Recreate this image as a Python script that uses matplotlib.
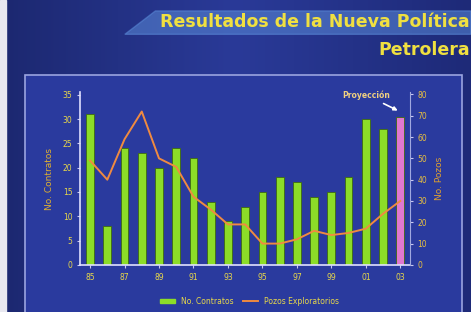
import numpy as np
import matplotlib.pyplot as plt
from matplotlib.patches import Polygon, Rectangle

# datos
anios = np.arange(1985, 2004)
contratos = [31, 8, 24, 23, 20, 24, 22, 13, 9, 12, 15, 18, 17, 14, 15, 18, 30, 28, 30.5]
pozos = [49, 40, 59, 72, 50, 46, 32, 26, 19, 19, 10, 10, 12, 16, 14, 15, 17, 24, 30]
etiquetas = ['85', '87', '89', '91', '93', '95', '97', '99', '01', '03']
anios_etiq = [1985, 1987, 1989, 1991, 1993, 1995, 1997, 1999, 2001, 2003]

amarillo = '#e8d84a'
fig = plt.figure(figsize=(4.71, 3.12), dpi=100)
fig.patch.set_facecolor('#1f2b7c')

# fondo con degradado
grad = np.linspace(0, 1, 256).reshape(1, -1)
bg = fig.add_axes([0, 0, 1, 1], zorder=-10)
bg.imshow(np.vstack([grad] * 2), aspect='auto', cmap=plt.matplotlib.colors.LinearSegmentedColormap.from_list(
    'b', ['#1c2870', '#2a3a98', '#1e2a78']), extent=[0, 1, 0, 1])
bg.set_xlim(0, 1)
bg.set_ylim(0, 1)
bg.axis('off')
bg.add_patch(Rectangle((0, 0), 0.012, 1, color='#e8e8f0'))
# banda del titulo
bg.add_patch(Polygon([[0.265, 0.89], [0.33, 0.965], [1, 0.965], [1, 0.89]],
                     closed=True, color='#5a8ad8', alpha=0.55))
# panel
bg.add_patch(Rectangle((0.053, -0.01), 0.928, 0.77, facecolor='#2a3a9e',
                       edgecolor='#9aa4e0', lw=1.2))

fig.text(0.997, 0.93, 'Resultados de la Nueva Política', ha='right', va='center',
         color='#f0e040', fontsize=12.5, fontweight='bold')
fig.text(0.997, 0.84, 'Petrolera', ha='right', va='center',
         color='#f0e040', fontsize=12.5, fontweight='bold')

ax = fig.add_axes([0.170, 0.151, 0.700, 0.553])
ax.set_facecolor('none')
colores = ['#8cdc28'] * (len(anios) - 1) + ['#e078d0']
ax.bar(anios, contratos, width=0.45, color=colores, edgecolor='#3e6a10', linewidth=0.6)
ax.set_xlim(1984.42, 2003.55)
ax.set_ylim(0, 35.5)
ax.set_yticks(range(0, 36, 5))
ax.set_xticks(anios_etiq)
ax.set_xticklabels(etiquetas)
ax.tick_params(colors='#c8c8f0', labelcolor=amarillo, labelsize=5.5, length=2)
for s in ['top', 'right']:
    ax.spines[s].set_visible(False)
ax.spines['left'].set_color('#e0e0ff')
ax.spines['bottom'].set_color('#e0e0ff')
ax.spines['left'].set_linewidth(1.2)
ax.spines['bottom'].set_linewidth(1.2)
ax.set_ylabel('No. Contratos', color='#e0b030', fontsize=6.5, labelpad=6)

ax2 = ax.twinx()
ax2.plot(anios, pozos, color='#f08a40', lw=1.4)
ax2.set_ylim(0, 81)
ax2.set_yticks(range(0, 81, 10))
ax2.tick_params(colors='#c8c8f0', labelcolor='#e8c040', labelsize=5.5, length=2)
for s in ['top', 'left', 'bottom']:
    ax2.spines[s].set_visible(False)
ax2.spines['right'].set_color('#a0a8e0')
ax2.set_ylabel('No. Pozos', color='#e0a030', fontsize=6.5, labelpad=6)

ax.annotate('Proyección', xy=(2003, 31.5), xytext=(2001.0, 35),
            color='#f0d080', fontsize=5.5, fontweight='bold', ha='center', va='center',
            arrowprops=dict(arrowstyle='-|>', color='white', lw=1.2))

hb = Rectangle((0, 0), 1, 1, color='#8cdc28')
hl, = ax.plot([], [], color='#f08a40', lw=1.4)
leg = fig.legend([hb, hl], ['No. Contratos', 'Pozos Exploratorios'], loc='center',
                 bbox_to_anchor=(0.53, 0.035), ncol=2, frameon=False, fontsize=5.5,
                 handlelength=2, handleheight=0.5, columnspacing=1.2)
for t in leg.get_texts():
    t.set_color(amarillo)

fig.savefig('out.png', dpi=100, facecolor=fig.get_facecolor())
